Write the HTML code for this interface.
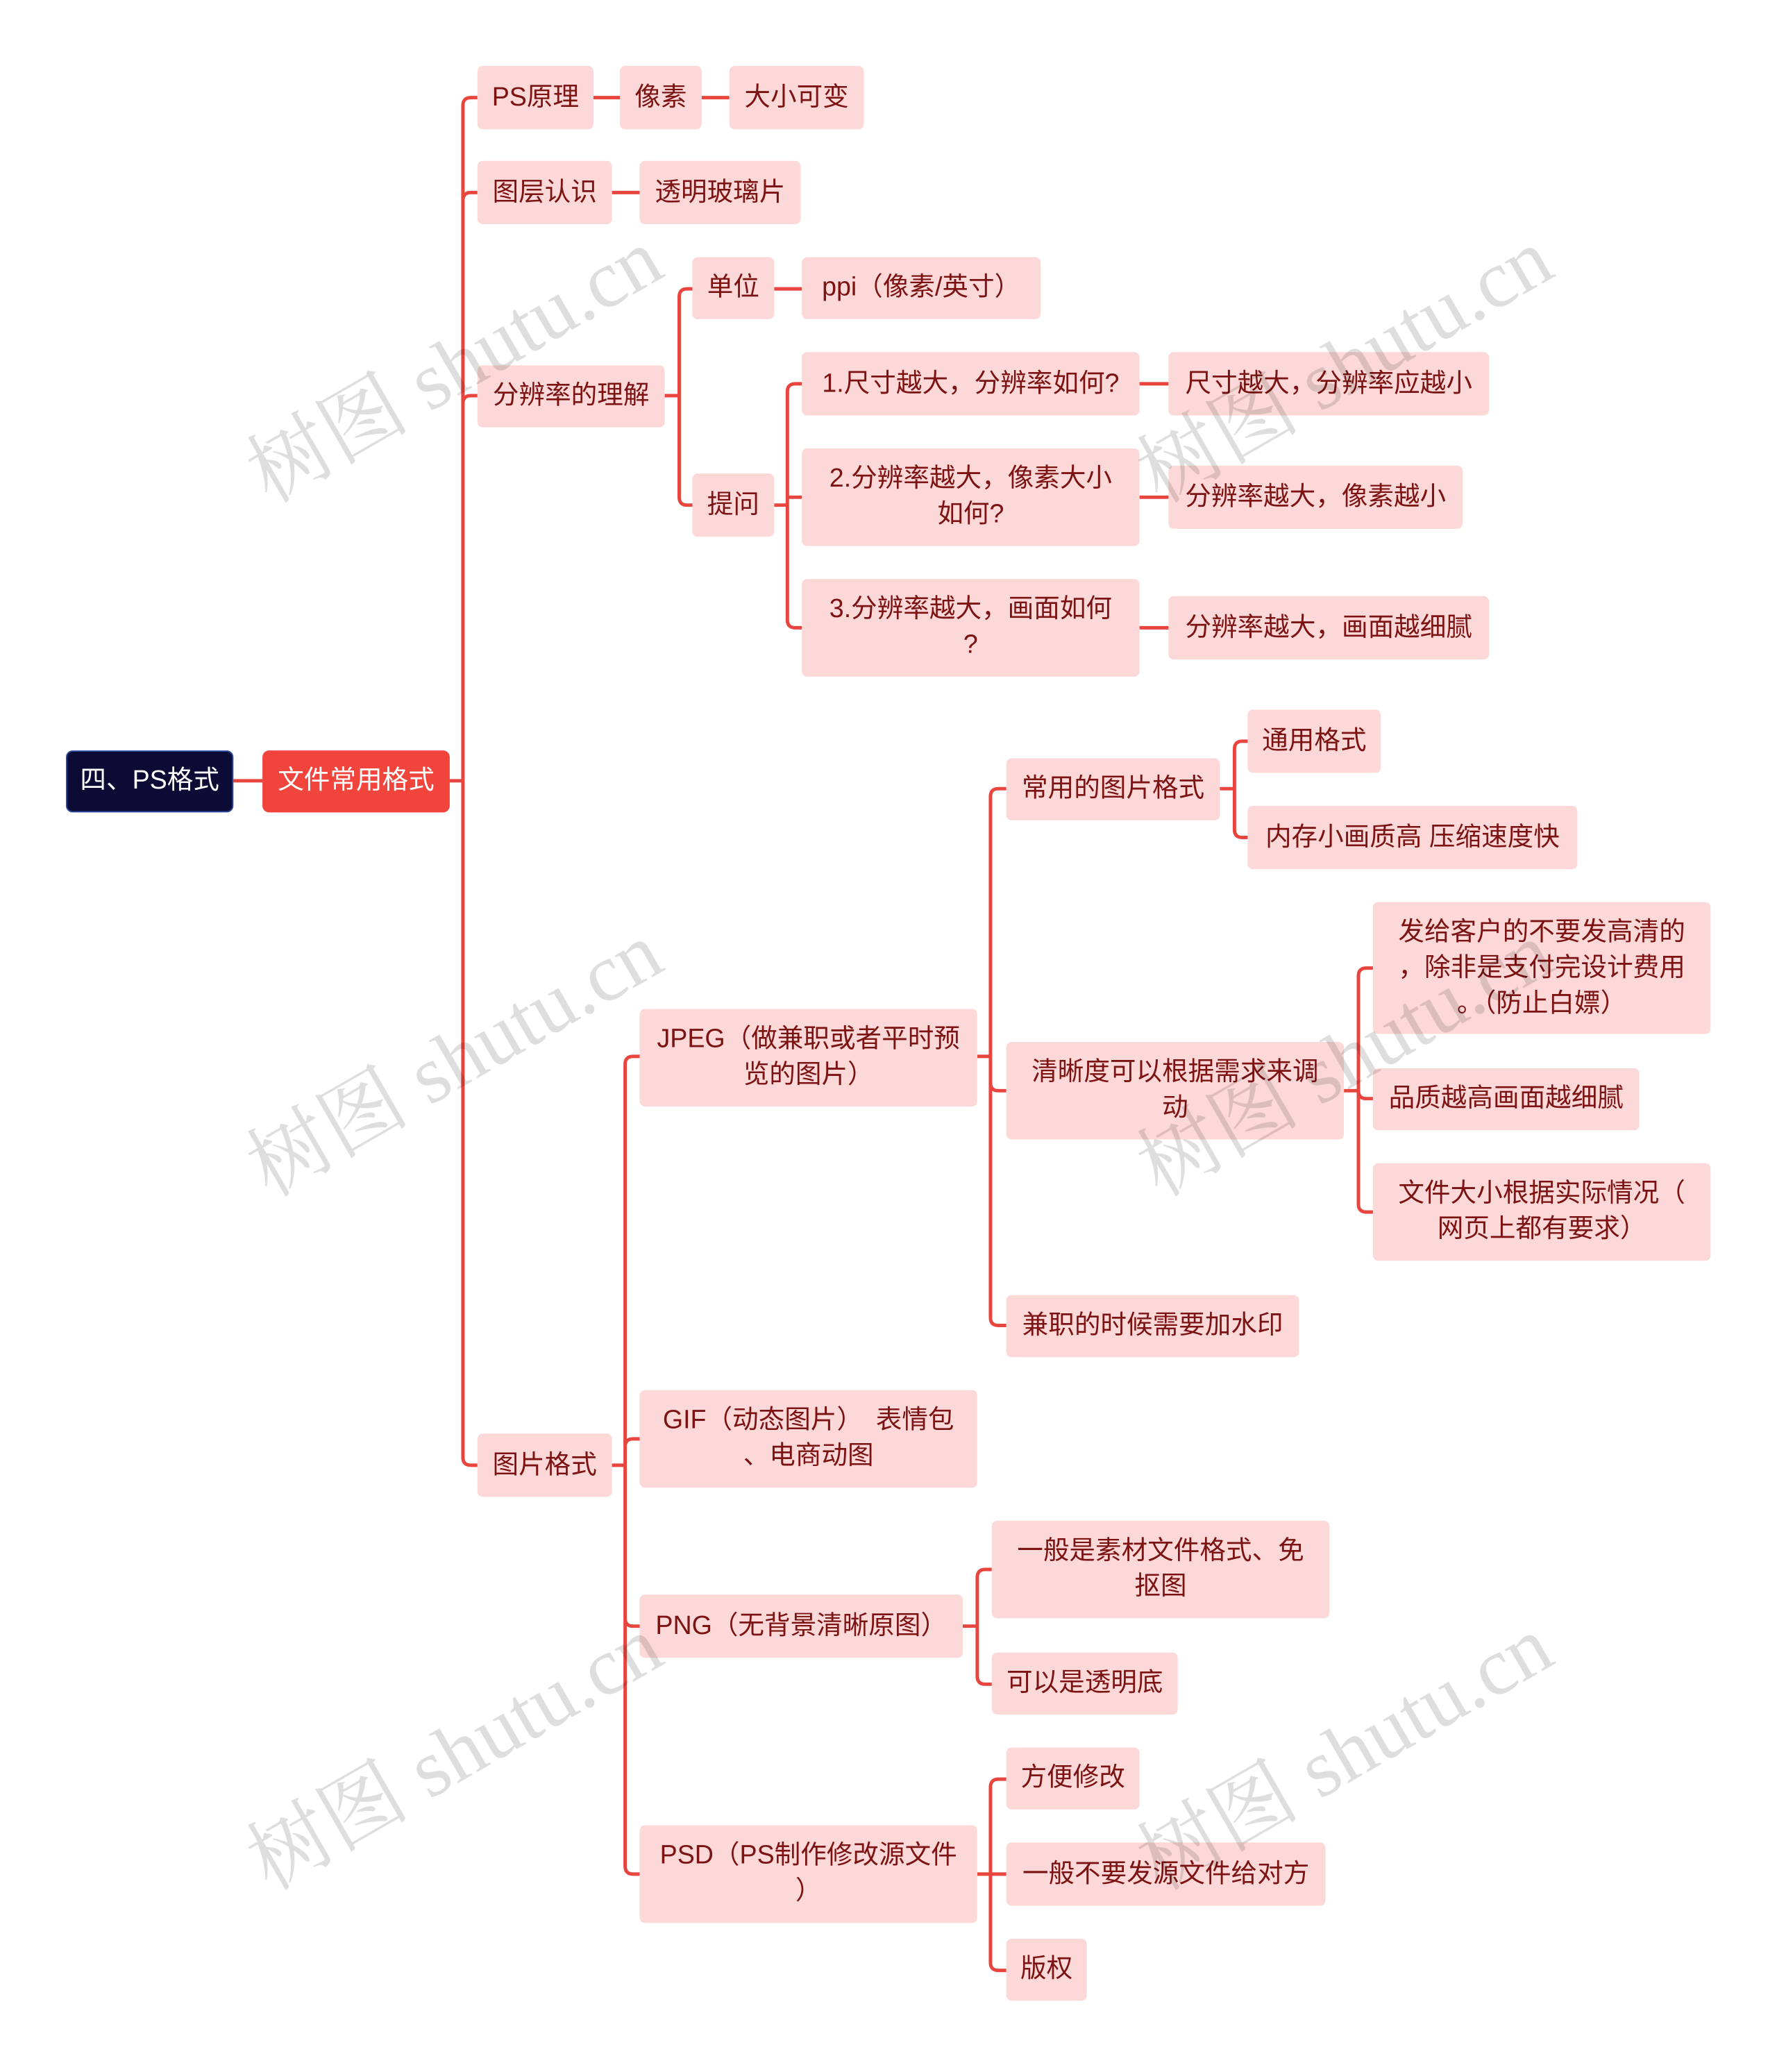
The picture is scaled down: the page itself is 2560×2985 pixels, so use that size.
<!DOCTYPE html>
<html><head><meta charset="utf-8"><style>
html,body{margin:0;padding:0;background:#fff}
body{width:2560px;height:2978px;overflow:hidden;position:relative}
#c{position:absolute;left:0;top:0;width:1350px;height:1571px;transform:scale(1.9);transform-origin:0 0}
.b{position:absolute;box-sizing:border-box;background:#fcd9d8;border-radius:4px;color:#7d1212;font-family:"Liberation Sans","Noto Sans CJK SC",sans-serif;font-size:19.8px;line-height:27px;display:flex;align-items:center;justify-content:center;text-align:center;white-space:nowrap}
svg{position:absolute;left:0;top:0}
.w{position:absolute;font-family:"Liberation Serif","Noto Serif CJK SC",serif;font-size:62px;color:rgba(0,0,0,0.13);transform:rotate(-30deg);white-space:nowrap;transform-origin:center}
</style></head><body><div id="c">
<svg width="1350" height="1571" fill="none" stroke="#e8453e" stroke-width="2.6">
<path d="M177,592H199M341,592H351"/>
<path d="M351,592V80Q351,74 357,74H362M351,152Q351,146 357,146H362M351,306Q351,300 357,300H362M351,592V1105Q351,1111 357,1111H362"/>
<path d="M450,74H470M532,74H553M464,146H485"/>
<path d="M504,300H515M515,300V225Q515,219 521,219H525M515,300V377Q515,383 521,383H525M587,219H608"/>
<path d="M587,383H597M597,383V297Q597,291 603,291H608M597,377H608M597,383V470Q597,476 603,476H608"/>
<path d="M864,291H886M864,377H886M864,476H886"/>
<path d="M464,1111H474M474,1111V807Q474,801 480,801H485M474,1097Q474,1091 480,1091H485M474,1111V1227Q474,1233 480,1233H485M474,1111V1415Q474,1421 480,1421H485"/>
<path d="M741,801H751M751,801V604Q751,598 757,598H763M751,821Q751,827 757,827H763M751,801V999Q751,1005 757,1005H763"/>
<path d="M925,598H936M936,598V568Q936,562 942,562H946M936,598V629Q936,635 942,635H946"/>
<path d="M1019,827H1030M1030,827V740Q1030,734 1036,734H1041M1030,827V827Q1030,833 1036,833H1041M1030,827V913Q1030,919 1036,919H1041"/>
<path d="M730,1233H741M741,1233V1196Q741,1190 747,1190H752M741,1233V1271Q741,1277 747,1277H752"/>
<path d="M741,1421H763M751,1421V1355Q751,1349 757,1349H763M751,1421V1488Q751,1494 757,1494H763"/>
</svg>
<div class="b" style="left:50px;top:569px;width:127px;height:47px;background:#0b0b35;border:1.5px solid #2b4aa0;color:#fff;border-radius:5px">四、PS格式</div>
<div class="b" style="left:199px;top:569px;width:142px;height:47px;background:#f0443c;color:#fff;border-radius:5px">文件常用格式</div>
<div class="b" style="left:362px;top:50px;width:88px;height:48px">PS原理</div>
<div class="b" style="left:470px;top:50px;width:62px;height:48px">像素</div>
<div class="b" style="left:553px;top:50px;width:102px;height:48px">大小可变</div>
<div class="b" style="left:362px;top:122px;width:102px;height:48px">图层认识</div>
<div class="b" style="left:485px;top:122px;width:122px;height:48px">透明玻璃片</div>
<div class="b" style="left:362px;top:277px;width:142px;height:47px">分辨率的理解</div>
<div class="b" style="left:525px;top:195px;width:62px;height:47px">单位</div>
<div class="b" style="left:608px;top:195px;width:181px;height:47px">ppi（像素/英寸）</div>
<div class="b" style="left:525px;top:359px;width:62px;height:48px">提问</div>
<div class="b" style="left:608px;top:267px;width:256px;height:48px">1.尺寸越大，分辨率如何?</div>
<div class="b" style="left:886px;top:267px;width:243px;height:48px">尺寸越大，分辨率应越小</div>
<div class="b" style="left:608px;top:340px;width:256px;height:74px">2.分辨率越大，像素大小<br>如何?</div>
<div class="b" style="left:886px;top:353px;width:223px;height:48px">分辨率越大，像素越小</div>
<div class="b" style="left:608px;top:439px;width:256px;height:74px">3.分辨率越大，画面如何<br>?</div>
<div class="b" style="left:886px;top:452px;width:243px;height:48px">分辨率越大，画面越细腻</div>
<div class="b" style="left:362px;top:1087px;width:102px;height:48px">图片格式</div>
<div class="b" style="left:485px;top:765px;width:256px;height:74px">JPEG（做兼职或者平时预<br>览的图片）</div>
<div class="b" style="left:763px;top:575px;width:162px;height:47px">常用的图片格式</div>
<div class="b" style="left:946px;top:538px;width:101px;height:48px">通用格式</div>
<div class="b" style="left:946px;top:611px;width:250px;height:48px">内存小画质高 压缩速度快</div>
<div class="b" style="left:763px;top:790px;width:256px;height:74px">清晰度可以根据需求来调<br>动</div>
<div class="b" style="left:1041px;top:684px;width:256px;height:100px">发给客户的不要发高清的<br>，除非是支付完设计费用<br>。（防止白嫖）</div>
<div class="b" style="left:1041px;top:810px;width:202px;height:47px">品质越高画面越细腻</div>
<div class="b" style="left:1041px;top:882px;width:256px;height:74px">文件大小根据实际情况（<br>网页上都有要求）</div>
<div class="b" style="left:763px;top:982px;width:222px;height:47px">兼职的时候需要加水印</div>
<div class="b" style="left:485px;top:1054px;width:256px;height:74px">GIF（动态图片）　表情包<br>、电商动图</div>
<div class="b" style="left:485px;top:1209px;width:245px;height:48px">PNG（无背景清晰原图）</div>
<div class="b" style="left:752px;top:1153px;width:256px;height:74px">一般是素材文件格式、免<br>抠图</div>
<div class="b" style="left:752px;top:1253px;width:141px;height:47px">可以是透明底</div>
<div class="b" style="left:485px;top:1384px;width:256px;height:74px">PSD（PS制作修改源文件<br>）</div>
<div class="b" style="left:763px;top:1325px;width:101px;height:47px">方便修改</div>
<div class="b" style="left:763px;top:1397px;width:242px;height:48px">一般不要发源文件给对方</div>
<div class="b" style="left:763px;top:1470px;width:61px;height:47px">版权</div>
<div class="w" style="left:168px;top:228px">树图 shutu.cn</div>
<div class="w" style="left:843px;top:228px">树图 shutu.cn</div>
<div class="w" style="left:168px;top:754px">树图 shutu.cn</div>
<div class="w" style="left:843px;top:754px">树图 shutu.cn</div>
<div class="w" style="left:168px;top:1280px">树图 shutu.cn</div>
<div class="w" style="left:843px;top:1280px">树图 shutu.cn</div>
</div></body></html>
